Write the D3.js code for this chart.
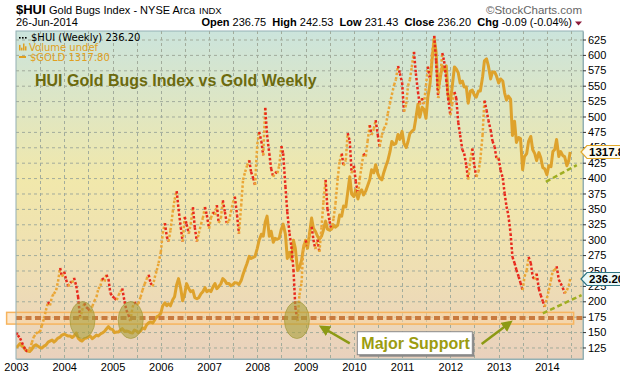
<!DOCTYPE html>
<html>
<head>
<meta charset="utf-8">
<script src="https://cdn.jsdelivr.net/npm/d3@7"></script>
<style>
body { margin: 0; background: #fff; }
svg { display: block; font-family: "Liberation Sans", Arial, sans-serif; }
</style>
</head>
<body>
<div id="hui_chart_container"></div>
<script>
// semi-monthly closes (1st and 15th of each month)
var hui2003 = [149,145,140,133,126,121,118,122,133,142,147,150,150,160,172,185,199,193,208,212,218,232,254,240];
var hui2004 = [248,235,224,232,230,238,225,207,172,185,197,190,188,183,192,200,207,220,225,238,232,243,236,213];
var hui2005 = [208,205,202,210,215,221,200,186,178,168,190,199,194,196,207,218,228,236,243,230,224,238,250,262];
var hui2006 = [280,310,327,305,297,315,345,365,379,350,320,297,337,325,310,325,353,320,297,310,325,335,353,340];
var hui2007 = [318,335,345,340,356,327,335,364,345,327,330,345,360,370,340,310,355,397,410,420,429,410,400,389];
var hui2008 = [455,475,460,437,514,470,440,415,402,410,408,420,452,440,386,345,310,289,251,190,168,210,230,290];
var hui2009 = [299,290,310,321,300,285,300,280,320,360,397,350,330,316,335,359,400,427,440,420,429,473,460,408];
var hui2010 = [420,395,375,400,420,440,435,460,486,470,480,494,470,451,470,480,486,505,521,535,551,560,582,570];
var hui2011 = [555,508,520,550,560,580,605,570,540,519,530,520,550,581,560,600,631,590,530,560,603,590,560,530];
var hui2012 = [502,520,540,530,490,470,446,440,420,398,430,448,420,402,410,430,470,526,510,494,478,460,451,432];
var hui2013 = [432,413,400,375,354,340,310,272,262,251,240,230,218,240,250,272,262,240,235,245,220,210,200,191];
var hui2014 = [205,218,235,250,250,257,235,229,222,213,218,225];

var gold2003 = [347,355,368,355,350,335,330,328,340,355,362,355,348,345,355,360,375,380,385,375,385,395,400,410];
var gold2004 = [415,410,405,405,398,405,420,395,385,380,392,395,400,405,392,400,410,405,415,420,428,440,452,440];
var gold2005 = [438,422,425,425,435,442,428,430,428,422,420,435,430,422,430,445,440,460,470,475,470,485,500,505];
var gold2006 = [518,555,570,555,565,555,585,600,660,690,640,580,615,665,640,625,630,595,590,595,615,625,645,625];
var gold2007 = [632,625,650,665,640,650,665,690,680,665,665,655,660,670,668,660,680,710,740,765,800,790,795,800];
var gold2008 = [840,880,910,900,970,1000,900,925,870,890,885,890,935,960,910,790,820,785,880,840,730,745,780,840];
var gold2009 = [880,840,920,990,940,925,900,885,900,930,975,935,930,935,955,945,955,1005,1000,1050,1045,1115,1195,1110];
var gold2010 = [1097,1130,1085,1120,1130,1105,1125,1150,1180,1230,1215,1255,1210,1190,1180,1215,1250,1275,1318,1370,1355,1360,1405,1380];
var gold2011 = [1420,1360,1340,1370,1410,1420,1430,1485,1555,1490,1540,1530,1485,1590,1660,1770,1880,1815,1625,1680,1745,1725,1745,1600];
var gold2012 = [1565,1640,1740,1730,1710,1660,1670,1640,1640,1560,1620,1625,1600,1590,1620,1620,1690,1770,1780,1745,1680,1715,1715,1695];
var gold2013 = [1660,1680,1670,1610,1575,1595,1580,1400,1470,1365,1390,1385,1230,1295,1310,1370,1395,1330,1310,1275,1315,1290,1240,1235];
var gold2014 = [1205,1250,1245,1320,1330,1380,1295,1320,1300,1295,1250,1275];

var years = [2003,2004,2005,2006,2007,2008,2009,2010,2011,2012,2013,2014];
var lastDate = "2014-06-26";
var lastHui = 236.20;
var lastGold = 1317.80;
var huiTicks = [125,150,175,200,225,250,275,300,325,350,375,400,425,450,475,500,525,550,575,600,625];

// annotations
var supportLevel = 173;
var supportBand = [163, 182];
var circleDates = ["2004-05-18", "2005-05-18", "2008-10-27"];
var huiTrend = [{date: "2013-12-01", value: 180.5}, {date: "2014-09-20", value: 210}];
var goldTrend = [{date: "2013-12-24", value: 1170}, {date: "2014-08-15", value: 1253}];

function buildSeries(byYear, last) {
    var out = [];
    byYear.forEach(function (vals, i) {
        vals.forEach(function (v, k) {
            out.push({date: new Date(years[i], Math.floor(k / 2), k % 2 ? 15 : 1), value: v});
        });
    });
    out.push({date: d3.timeParse("%Y-%m-%d")(lastDate), value: last});
    return out;
}

function display_hui_chart() {
    var margin = {top: 31, right: 37, bottom: 17, left: 16},
        width = 620 - margin.left - margin.right,
        height = 376 - margin.top - margin.bottom;
    var parse = d3.timeParse("%Y-%m-%d");

    var hui = buildSeries([hui2003, hui2004, hui2005, hui2006, hui2007, hui2008,
        hui2009, hui2010, hui2011, hui2012, hui2013, hui2014], lastHui);
    var gold = buildSeries([gold2003, gold2004, gold2005, gold2006, gold2007, gold2008,
        gold2009, gold2010, gold2011, gold2012, gold2013, gold2014], lastGold);

    var x = d3.scaleTime()
        .domain([new Date(2003, 0, 1), new Date(2014, 9, 1)])
        .range([0, width]);
    var y = d3.scaleLinear()
        .domain([106.3, 638.8])
        .range([height, 0]);
    var yGold = d3.scaleLinear()
        .domain([291.1, 1918])
        .range([height, 0]);

    var root = d3.select("#hui_chart_container").append("svg")
        .attr("width", 620)
        .attr("height", 376);

    var defs = root.append("defs");
    var grad = defs.append("linearGradient")
        .attr("id", "bg")
        .attr("x1", 0).attr("y1", 0).attr("x2", 0).attr("y2", 1);
    grad.append("stop").attr("offset", "0%").attr("stop-color", "#cbe4dc");
    grad.append("stop").attr("offset", "45%").attr("stop-color", "#f1e8ab");
    grad.append("stop").attr("offset", "72%").attr("stop-color", "#efdfb3");
    grad.append("stop").attr("offset", "100%").attr("stop-color", "#e9d1bd");
    defs.append("clipPath").attr("id", "plotclip")
        .append("rect").attr("width", width).attr("height", height);
    var mk = defs.append("marker")
        .attr("id", "arrowhead")
        .attr("viewBox", "0 0 10 10")
        .attr("refX", 5).attr("refY", 5)
        .attr("markerWidth", 4.5).attr("markerHeight", 4.5)
        .attr("orient", "auto");
    mk.append("path").attr("d", "M0,0L10,5L0,10Z").attr("fill", "#8c9a14");

    // header
    root.append("text").attr("x", 16).attr("y", 14)
        .style("font-size", "13px").style("font-weight", "bold").text("$HUI");
    root.append("text").attr("x", 49).attr("y", 14)
        .style("font-size", "11px").text("Gold Bugs Index - NYSE Arca");
    root.append("text").attr("x", 199).attr("y", 14)
        .style("font-size", "9.5px").text("INDX");
    root.append("text").attr("x", 16).attr("y", 26)
        .style("font-size", "11px").text("26-Jun-2014");
    root.append("text").attr("x", 582).attr("y", 14)
        .attr("text-anchor", "end")
        .style("font-size", "11.5px").style("fill", "#666").text("\u00a9StockCharts.com");

    var quote = root.append("text").attr("x", 572).attr("y", 26)
        .attr("text-anchor", "end").style("font-size", "11px");
    [["Open", " 236.75  "], ["High", " 242.53  "], ["Low", " 231.43  "],
        ["Close", " 236.20  "], ["Chg", " -0.09 (-0.04%)"]].forEach(function (p) {
        quote.append("tspan").style("font-weight", "bold").text(p[0]);
        quote.append("tspan").attr("xml:space", "preserve").text(p[1]);
    });
    quote.attr("xml:space", "preserve");
    root.append("path").attr("d", "M575,21.5L582,21.5L578.5,25.5Z").attr("fill", "#8b1a3a");

    var svg = root.append("g")
        .attr("transform", "translate(" + margin.left + "," + margin.top + ")");

    svg.append("rect").attr("width", width).attr("height", height).attr("fill", "url(#bg)");

    // grid
    svg.selectAll(".hgrid")
        .data(huiTicks)
        .enter().append("line")
        .attr("x1", 0).attr("x2", width)
        .attr("y1", function (d) { return y(d) + 0.5; })
        .attr("y2", function (d) { return y(d) + 0.5; })
        .attr("stroke", "#a2ac9c").attr("stroke-dasharray", "3,3");
    var halfYears = d3.timeMonth.every(6).range(new Date(2003, 1, 1), new Date(2014, 9, 1));
    svg.selectAll(".vgrid")
        .data(halfYears)
        .enter().append("line")
        .attr("x1", function (d) { return Math.round(x(d)) + 0.5; })
        .attr("x2", function (d) { return Math.round(x(d)) + 0.5; })
        .attr("y1", 0).attr("y2", height)
        .attr("stroke", "#a2ac9c").attr("stroke-dasharray", "3,3");

    // support band and circles
    svg.append("rect")
        .attr("x", x(new Date(2002, 9, 22)))
        .attr("y", y(supportBand[1]))
        .attr("width", x(new Date(2014, 6, 22)) - x(new Date(2002, 9, 22)))
        .attr("height", y(supportBand[0]) - y(supportBand[1]))
        .attr("fill", "#fbd6a2").attr("fill-opacity", 0.55)
        .attr("stroke", "#f6b45e").attr("stroke-width", 1.5);

    var g = svg.append("g").attr("clip-path", "url(#plotclip)");

    // gold line
    g.append("path")
        .datum(gold)
        .attr("fill", "none")
        .attr("stroke", "#dea22c")
        .attr("stroke-width", 3)
        .attr("stroke-linejoin", "round")
        .attr("d", d3.line()
            .x(function (d) { return x(d.date); })
            .y(function (d) { return yGold(d.value); }));

    // HUI dotted line, coloured by direction
    var segs = d3.pairs(hui);
    g.selectAll(".huiseg")
        .data(segs)
        .enter().append("line")
        .attr("x1", function (d) { return x(d[0].date); })
        .attr("y1", function (d) { return y(d[0].value); })
        .attr("x2", function (d) { return x(d[1].date); })
        .attr("y2", function (d) { return y(d[1].value); })
        .attr("stroke", function (d) { return d[1].value >= d[0].value ? "#eaa636" : "#e8281c"; })
        .attr("stroke-width", 2.5)
        .attr("stroke-dasharray", "2.5,2");

    svg.append("line")
        .attr("x1", 0).attr("x2", width)
        .attr("y1", y(supportLevel)).attr("y2", y(supportLevel))
        .attr("stroke", "#c97a3e").attr("stroke-width", 4)
        .attr("stroke-dasharray", "6,3.5");

    svg.selectAll(".circ")
        .data(circleDates)
        .enter().append("ellipse")
        .attr("cx", function (d) { return x(parse(d)); })
        .attr("cy", y(169.5))
        .attr("rx", 12.5).attr("ry", 18.5)
        .attr("fill", "#a89f3c").attr("fill-opacity", 0.6)
        .attr("stroke", "#a09636").attr("stroke-opacity", 0.6);

    // trend lines
    [huiTrend, goldTrend].forEach(function (t, i) {
        var sc = i === 0 ? y : yGold;
        svg.append("line")
            .attr("x1", x(parse(t[0].date))).attr("y1", sc(t[0].value))
            .attr("x2", x(parse(t[1].date))).attr("y2", sc(t[1].value))
            .attr("stroke", "#9fae22").attr("stroke-width", 2.5)
            .attr("stroke-dasharray", "5,3");
    });

    // arrows and label
    [[["2009-12-01", 131.8], ["2009-05-18", 156.2]], [["2012-08-25", 130.7], ["2013-03-14", 163.2]]]
        .forEach(function (a) {
            svg.append("line")
                .attr("x1", x(parse(a[0][0]))).attr("y1", y(a[0][1]))
                .attr("x2", x(parse(a[1][0]))).attr("y2", y(a[1][1]))
                .attr("stroke", "#8c9a14").attr("stroke-width", 2.5)
                .attr("marker-end", "url(#arrowhead)");
        });
    var bx = x(parse("2010-01-27")), by = y(150.6);
    svg.append("rect").attr("x", bx + 2).attr("y", by + 2).attr("width", 115).attr("height", 23)
        .attr("fill", "#8a8a8a");
    svg.append("rect").attr("x", bx).attr("y", by).attr("width", 115).attr("height", 23)
        .attr("fill", "#fff").attr("stroke", "#8a8a8a");
    svg.append("text").attr("x", bx + 4).attr("y", by + 17)
        .style("font-size", "16px").style("font-weight", "bold").style("fill", "#9c9c10")
        .text("Major Support");

    // frame and axes
    svg.append("rect").attr("width", width).attr("height", height)
        .attr("fill", "none").attr("stroke", "#93b0b4");

    var xAxis = svg.append("g")
        .attr("transform", "translate(0," + height + ")")
        .call(d3.axisBottom(x)
            .ticks(d3.timeYear.every(1))
            .tickFormat(d3.timeFormat("%Y"))
            .tickSize(0).tickPadding(4));
    xAxis.select(".domain").attr("stroke", "#93b0b4");
    xAxis.selectAll("text").style("font-size", "11px").style("fill", "#000")
        .style("font-family", "'Liberation Sans', Arial, sans-serif");

    var yAxis = svg.append("g")
        .attr("transform", "translate(" + width + ",0)")
        .call(d3.axisRight(y).tickValues(huiTicks).tickSize(3).tickPadding(2).tickSizeOuter(0));
    yAxis.select(".domain").attr("stroke", "#93b0b4");
    yAxis.selectAll(".tick line").attr("stroke", "#333");
    yAxis.selectAll("text").style("font-size", "11px").style("fill", "#000")
        .style("font-family", "'Liberation Sans', Arial, sans-serif");

    // price tags
    function tag(yy, label, border, fill) {
        svg.append("path")
            .attr("d", "M" + (width - 2) + "," + yy + "L" + (width + 4) + "," + (yy - 6.5) +
                "L" + (width + 40) + "," + (yy - 6.5) + "L" + (width + 40) + "," + (yy + 6.5) +
                "L" + (width + 4) + "," + (yy + 6.5) + "Z")
            .attr("fill", fill).attr("stroke", border).attr("stroke-width", 1.2);
        svg.append("text").attr("x", width + 6).attr("y", yy + 4)
            .style("font-size", "11.5px").style("font-weight", "bold").text(label);
    }
    tag(yGold(lastGold), d3.format(".2f")(lastGold), "#e2a92c", "#fdfbf0");
    tag(y(lastHui), d3.format(".2f")(lastHui), "#2c7482", "#eaf8f8");

    // legend
    var lg = svg.append("g").style("font-family", "'DejaVu Sans', Verdana, sans-serif").style("font-size", "10px");
    [3, 6, 9].forEach(function (dx) {
        lg.append("rect").attr("x", dx).attr("y", 6).attr("width", 1.6).attr("height", 1.6).attr("fill", "#000");
    });
    lg.append("text").attr("x", 15).attr("y", 9.5).text("$HUI (Weekly) " + d3.format(".2f")(lastHui));
    [[3, 4], [5, 2], [7, 5], [9, 3]].forEach(function (b) {
        lg.append("rect").attr("x", b[0]).attr("y", 19.5 - b[1] * 1.4).attr("width", 1.5)
            .attr("height", b[1] * 1.4).attr("fill", "#e0a020");
    });
    lg.append("text").attr("x", 13).attr("y", 19.5).style("fill", "#e0a020").text("Volume undef");
    lg.append("rect").attr("x", 3).attr("y", 25).attr("width", 7).attr("height", 2).attr("fill", "#e0a020");
    lg.append("text").attr("x", 14).attr("y", 29.5).style("fill", "#e0a020")
        .text("$GOLD " + d3.format(".2f")(lastGold));

    svg.append("text").attr("x", 19).attr("y", 55)
        .style("font-size", "16px").style("font-weight", "bold").style("fill", "#6c6a0e")
        .text("HUI Gold Bugs Index vs Gold Weekly");
}

display_hui_chart();
</script>
</body>
</html>
